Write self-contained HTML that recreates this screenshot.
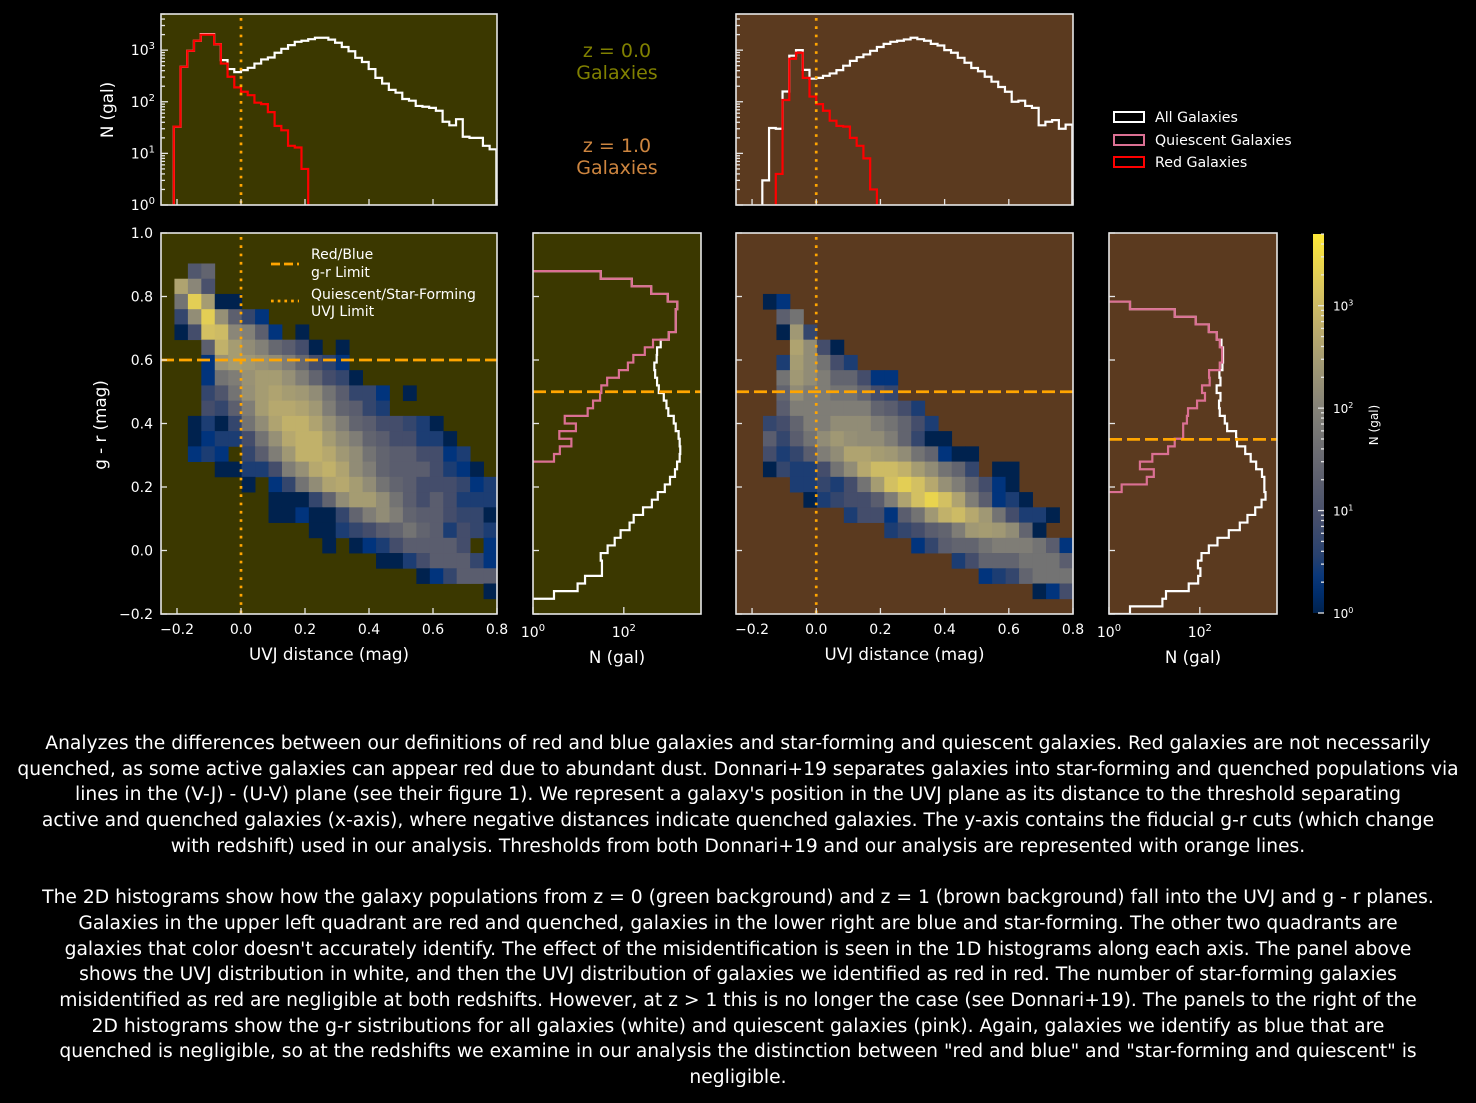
<!DOCTYPE html>
<html><head><meta charset="utf-8"><style>
html,body{margin:0;padding:0;background:#000;width:1476px;height:1103px;overflow:hidden}
svg{position:absolute;left:0;top:0}
#caption{position:absolute;left:0;top:731px;width:1476px;text-align:center;color:#fff;font-family:"DejaVu Sans","Liberation Sans",sans-serif;font-size:18.7px;line-height:25.7px;white-space:nowrap}
</style></head><body>
<svg id="fig" width="1476" height="1103" xmlns="http://www.w3.org/2000/svg" font-family="DejaVu Sans, Liberation Sans, sans-serif"></svg>
<div id="caption">Analyzes the differences between our definitions of red and blue galaxies and star-forming and quiescent galaxies. Red galaxies are not necessarily<br>quenched, as some active galaxies can appear red due to abundant dust. Donnari+19 separates galaxies into star-forming and quenched populations via<br>lines in the (V-J) - (U-V) plane (see their figure 1). We represent a galaxy's position in the UVJ plane as its distance to the threshold separating<br>active and quenched galaxies (x-axis), where negative distances indicate quenched galaxies. The y-axis contains the fiducial g-r cuts (which change<br>with redshift) used in our analysis. Thresholds from both Donnari+19 and our analysis are represented with orange lines.<br><br>The 2D histograms show how the galaxy populations from z = 0 (green background) and z = 1 (brown background) fall into the UVJ and g - r planes.<br>Galaxies in the upper left quadrant are red and quenched, galaxies in the lower right are blue and star-forming. The other two quadrants are<br>galaxies that color doesn't accurately identify. The effect of the misidentification is seen in the 1D histograms along each axis. The panel above<br>shows the UVJ distribution in white, and then the UVJ distribution of galaxies we identified as red in red. The number of star-forming galaxies<br>misidentified as red are negligible at both redshifts. However, at z &gt; 1 this is no longer the case (see Donnari+19). The panels to the right of the<br>2D histograms show the g-r sistributions for all galaxies (white) and quiescent galaxies (pink). Again, galaxies we identify as blue that are<br>quenched is negligible, so at the redshifts we examine in our analysis the distinction between "red and blue" and "star-forming and quiescent" is<br>negligible.</div>
<script>
// ---- data ----
const uvjBinStart = -0.252, uvjBinWidth = 0.021;
const grBinStart = -0.2, grBinWidth = 0.024;
const uvjAllZ0 = [0,0,33,475,970,1520,2050,2050,1300,640,430,375,410,455,550,660,720,890,1060,1250,1450,1520,1630,1740,1740,1600,1390,1150,950,710,590,430,290,225,170,150,113,105,83,80,76,67,41,35,46,21,20,20,14,12];
const uvjRedZ0 = [0,0,33,475,970,1520,2000,2000,1300,550,305,190,156,134,96,90,63,34,28,14,13,5,0,0,0,0,0,0,0,0,0,0,0,0,0,0,0,0,0,0,0,0,0,0,0,0,0,0,0,0];
const uvjAllZ1 = [0,0,0,0,3,31,30,158,780,1000,415,280,290,318,354,410,500,620,730,825,970,1150,1320,1450,1520,1610,1740,1630,1520,1320,1230,1000,890,710,570,450,390,305,245,193,156,100,105,83,76,35,41,44,30,36];
const uvjRedZ1 = [0,0,0,0,0,0,4,108,680,890,290,126,90,67,43,34,33,20,14,8,2,0,0,0,0,0,0,0,0,0,0,0,0,0,0,0,0,0,0,0,0,0,0,0,0,0,0,0,0,0];
const grAllZ0 = [0,0,2.9,9.6,14,33,33,31,44,63,85,134,165,265,415,560,800,1040,1340,1490,1700,1750,1700,1610,1390,1260,955,870,760,590,540,490,470,530,540,650,980,1390,1390,1390,1510,930,400,150,31,0,0,0,0,0];
const grQuiZ0 = [0,0,0,0,0,0,0,0,0,0,0,0,0,0,0,0,0,0,0,0,2.9,3.9,7,3.8,8.8,5,16,21,30,32,43,78,123,162,290,440,980,1390,1390,1390,1510,930,400,150,31,0,0,0,0,0];
const grAllZ1 = [2.9,15,18,57,92,103,91,109,158,245,435,760,1120,1660,2290,2800,2640,2640,2340,1740,1320,1000,660,630,400,355,275,265,285,235,285,270,315,325,325,300,235,158,81,28,2.9,0,0,0,0,0,0,0,0,0];
const grQuiZ1 = [0,0,0,0,0,0,0,0,0,0,0,0,0,0,0,0,1.9,6.8,9.7,4.8,9,20,28,43,43,52,55,87,130,112,165,160,275,310,310,275,235,158,81,28,2.9,0,0,0,0,0,0,0,0,0];
const hist2dZ0 = [
[0,0,0,0,0,0,0,0,0,0,0,0,0,0,0,0,0,0,0,0,0,0,0,0,0],
[0,0,0,0,0,0,0,0,0,0,0,0,0,0,0,0,0,0,0,0,0,0,0,0,0],
[0,0,13,25,0,0,0,0,0,0,0,0,0,0,0,0,0,0,0,0,0,0,0,0,0],
[0,400,120,10,0,0,0,0,0,0,0,0,0,0,0,0,0,0,0,0,0,0,0,0,0],
[0,50,2000,300,1,1,0,0,0,0,0,0,0,0,0,0,0,0,0,0,0,0,0,0,0],
[0,5,160,2000,180,20,5,2,0,0,0,0,0,0,0,0,0,0,0,0,0,0,0,0,0],
[0,1,8,1200,1000,120,90,20,2,0,1,0,0,0,0,0,0,0,0,0,0,0,0,0,0],
[0,0,0,20,700,300,150,90,30,18,8,1,0,1,0,0,0,0,0,0,0,0,0,0,0],
[0,0,0,2,200,300,250,200,150,80,30,8,4,2,0,0,0,0,0,0,0,0,0,0,0],
[0,0,0,2,50,80,200,300,300,180,80,25,8,5,1,0,0,0,0,0,0,0,0,0,0],
[0,0,0,5,12,50,180,300,400,300,250,150,50,18,5,5,2,0,1,0,0,0,0,0,0],
[0,0,0,8,5,20,80,300,500,500,400,250,80,25,18,5,3,0,0,0,0,0,0,0,0],
[0,0,1,3,1,5,50,150,400,700,700,400,180,80,25,18,8,8,5,3,1,0,0,0,0],
[0,0,1,2,3,3,8,50,180,500,700,700,300,150,80,25,18,8,8,3,3,1,0,0,0],
[0,0,2,3,2,0,5,18,80,250,700,700,500,250,150,50,25,18,18,8,8,2,3,0,0],
[0,0,0,0,1,1,3,3,8,80,180,500,700,400,150,80,25,18,18,18,8,3,2,1,0],
[0,0,0,0,0,0,1,0,2,5,50,150,400,500,300,150,50,25,18,8,8,8,5,2,3],
[0,0,0,0,0,0,0,0,1,1,1,5,25,150,300,300,150,50,18,8,18,8,3,3,3],
[0,0,0,0,0,0,0,0,1,1,2,1,1,5,25,80,150,80,25,18,18,8,5,5,1],
[0,0,0,0,0,0,0,0,0,0,0,1,1,3,5,8,18,25,50,25,18,3,8,5,3],
[0,0,0,0,0,0,0,0,0,0,0,0,1,0,1,2,3,8,18,18,18,18,8,0,2],
[0,0,0,0,0,0,0,0,0,0,0,0,0,0,0,0,1,1,3,8,18,18,18,5,2],
[0,0,0,0,0,0,0,0,0,0,0,0,0,0,0,0,0,0,0,1,2,5,18,18,18],
[0,0,0,0,0,0,0,0,0,0,0,0,0,0,0,0,0,0,0,0,0,0,0,0,1],
[0,0,0,0,0,0,0,0,0,0,0,0,0,0,0,0,0,0,0,0,0,0,0,0,0]];
const hist2dZ1 = [
[0,0,0,0,0,0,0,0,0,0,0,0,0,0,0,0,0,0,0,0,0,0,0,0,0],
[0,0,0,0,0,0,0,0,0,0,0,0,0,0,0,0,0,0,0,0,0,0,0,0,0],
[0,0,0,0,0,0,0,0,0,0,0,0,0,0,0,0,0,0,0,0,0,0,0,0,0],
[0,0,0,0,0,0,0,0,0,0,0,0,0,0,0,0,0,0,0,0,0,0,0,0,0],
[0,0,1,2,0,0,0,0,0,0,0,0,0,0,0,0,0,0,0,0,0,0,0,0,0],
[0,0,0,20,50,0,0,0,0,0,0,0,0,0,0,0,0,0,0,0,0,0,0,0,0],
[0,0,0,1,250,5,0,0,0,0,0,0,0,0,0,0,0,0,0,0,0,0,0,0,0],
[0,0,0,0,400,150,8,1,0,0,0,0,0,0,0,0,0,0,0,0,0,0,0,0,0],
[0,0,0,3,300,150,50,8,3,0,0,0,0,0,0,0,0,0,0,0,0,0,0,0,0],
[0,0,0,50,250,150,80,25,25,8,2,2,0,0,0,0,0,0,0,0,0,0,0,0,0],
[0,0,0,25,150,80,80,50,50,25,8,5,0,0,0,0,0,0,0,0,0,0,0,0,0],
[0,0,0,18,80,80,80,80,80,80,25,18,8,3,0,0,0,0,0,0,0,0,0,0,0],
[0,0,5,8,25,80,80,150,150,150,80,50,25,8,3,0,0,0,0,0,0,0,0,0,0],
[0,0,18,5,18,50,150,250,180,150,150,80,25,5,1,1,0,0,0,0,0,0,0,0,0],
[0,0,8,3,5,18,80,150,400,400,300,250,150,50,25,2,1,1,0,0,0,0,0,0,0],
[0,0,1,5,3,3,8,50,150,500,1000,1000,700,300,150,50,25,5,0,1,1,0,0,0,0],
[0,0,0,0,3,3,5,3,8,50,300,1200,2000,1200,500,180,80,25,8,2,1,0,0,0,0],
[0,0,0,0,0,1,3,5,8,8,18,80,400,1200,2500,1200,400,80,18,2,3,1,0,0,0],
[0,0,0,0,0,0,0,0,3,8,8,2,18,50,250,700,1000,500,250,50,8,3,3,1,0],
[0,0,0,0,0,0,0,0,0,0,0,3,5,8,18,25,80,250,300,250,150,25,1,0,0],
[0,0,0,0,0,0,0,0,0,0,0,0,0,2,5,18,25,25,50,80,80,80,50,18,2],
[0,0,0,0,0,0,0,0,0,0,0,0,0,0,0,0,3,8,25,25,25,50,50,50,18],
[0,0,0,0,0,0,0,0,0,0,0,0,0,0,0,0,0,0,2,3,5,25,50,50,50],
[0,0,0,0,0,0,0,0,0,0,0,0,0,0,0,0,0,0,0,0,0,0,1,2,8],
[0,0,0,0,0,0,0,0,0,0,0,0,0,0,0,0,0,0,0,0,0,0,0,0,0]];
const uvjTicks = [-0.2, 0.0, 0.2, 0.4, 0.6, 0.8];
const uvjTickLabels = ["\u22120.2","0.0","0.2","0.4","0.6","0.8"];
const grTicks = [-0.2, 0.0, 0.2, 0.4, 0.6, 0.8, 1.0];
const grTickLabels = ["\u22120.2","0.0","0.2","0.4","0.6","0.8","1.0"];
const logTicks = [0,1,2,3];
const sideLogTicks = [0,2];
const grLimitMainZ0 = 0.6, grLimitSideZ0 = 0.5, grLimitMainZ1 = 0.5, grLimitSideZ1 = 0.35;
const uvjLimit = 0.0;

// ---- scales ----
const XMIN=-0.25, XMAX=0.8, YMIN=-0.2, YMAX=1.0, LOGMAX=3.7;
const NS="http://www.w3.org/2000/svg";
const fig=document.getElementById('fig');
function mk(tag, attrs, parent){const e=document.createElementNS(NS,tag);for(const k in attrs)e.setAttribute(k,attrs[k]);(parent||fig).appendChild(e);return e;}
function xLin(p,v){return p.x0+(v-XMIN)/(XMAX-XMIN)*(p.x1-p.x0);}
function yLin(p,v){return p.y1-(v-YMIN)/(YMAX-YMIN)*(p.y1-p.y0);}
function yLog(p,c){return p.y1-Math.log10(c)/LOGMAX*(p.y1-p.y0);}
function xLog(p,c){return p.x0+Math.log10(c)/LOGMAX*(p.x1-p.x0);}
const cmapStops=[[0,[0,34,78]],[0.08,[0,52,125]],[0.15,[40,65,110]],[0.25,[70,78,107]],[0.35,[92,95,110]],[0.45,[113,113,115]],[0.55,[135,132,120]],[0.65,[160,152,116]],[0.75,[188,172,108]],[0.85,[216,196,96]],[1,[254,232,56]]];
function cividis(t){t=Math.max(0,Math.min(1,t));for(let i=1;i<cmapStops.length;i++){if(t<=cmapStops[i][0]){const a=cmapStops[i-1],b=cmapStops[i];const f=(t-a[0])/(b[0]-a[0]);const c=a[1].map((v,j)=>Math.round(v+(b[1][j]-v)*f));return 'rgb('+c.join(',')+')';}}return 'rgb(254,232,56)';}

const GREEN='#3b3800', BROWN='#5b3a1f', ORANGE='#ffa500', SPINE='#e6e6e6';
const panels={
 topL:{x0:161,x1:497,y0:14,y1:205,bg:GREEN},
 topR:{x0:736,x1:1073,y0:14,y1:205,bg:BROWN},
 mainL:{x0:161,x1:497,y0:233,y1:614,bg:GREEN},
 sideL:{x0:533,x1:701,y0:233,y1:614,bg:GREEN},
 mainR:{x0:736,x1:1073,y0:233,y1:614,bg:BROWN},
 sideR:{x0:1109,x1:1277,y0:233,y1:614,bg:BROWN}
};
const defs=mk('defs',{});
for(const k in panels){const p=panels[k];const cp=mk('clipPath',{id:'clip-'+k},defs);mk('rect',{x:p.x0,y:p.y0,width:p.x1-p.x0,height:p.y1-p.y0},cp);}

function background(p,name){const r=mk('rect',{x:p.x0,y:p.y0,width:p.x1-p.x0,height:p.y1-p.y0,fill:p.bg});

}
function spine(p,name){const r=mk('rect',{x:p.x0,y:p.y0,width:p.x1-p.x0,height:p.y1-p.y0,fill:'none',stroke:SPINE,'stroke-width':1.6});

}
function label(x,y,txt,size,anchor,name,color,rot){const t=mk('text',{x:x,y:y,'font-size':size,fill:color||'#fff','text-anchor':anchor||'middle'});if(rot)t.setAttribute('transform','rotate(-90 '+x+' '+y+')');t.textContent=txt;

return t;}
function powLabel(x,y,exp,size,anchor,name){const t=mk('text',{x:x,y:y,'font-size':size,fill:'#fff','text-anchor':anchor});t.appendChild(document.createTextNode('10'));const s=mk('tspan',{dy:-Math.round(size*0.45),'font-size':Math.round(size*0.7)},t);s.textContent=String(exp);

}
function tickLine(x1,y1,x2,y2,name){const l=mk('line',{x1:x1,y1:y1,x2:x2,y2:y2,stroke:SPINE,'stroke-width':1.3});

}

function topHist(p,counts,color,name,clipId){let d='';
 counts.forEach((c,i)=>{const xa=Math.max(p.x0-2,xLin(p,uvjBinStart+i*uvjBinWidth));const xb=xLin(p,uvjBinStart+(i+1)*uvjBinWidth);const y=c>0?yLog(p,c):p.y1+5;
  if(d==='')d='M'+xa+','+(p.y1+5);d+=' L'+xa+','+y+' L'+xb+','+y;});
 d+=' L'+xLin(p,uvjBinStart+counts.length*uvjBinWidth)+','+(p.y1+5);
 const path=mk('path',{d:d,fill:'none',stroke:color,'stroke-width':2.2,'clip-path':'url(#'+clipId+')'});
 
 }
function sideHist(p,counts,color,name,clipId){let d='M'+(p.x0-5)+','+yLin(p,grBinStart);
 counts.forEach((c,j)=>{const ya=yLin(p,grBinStart+j*grBinWidth);const yb=yLin(p,grBinStart+(j+1)*grBinWidth);const x=c>0?xLog(p,c):p.x0-5;
  d+=' L'+x+','+ya+' L'+x+','+yb;});
 d+=' L'+(p.x0-5)+','+yLin(p,grBinStart+counts.length*grBinWidth);
 const path=mk('path',{d:d,fill:'none',stroke:color,'stroke-width':2.2,'clip-path':'url(#'+clipId+')'});
 
 }
function heatmap(p,grid,name){const g=mk('g',{});
 
 
 const n=grid.length,cw=(XMAX-XMIN)/grid[0].length,ch=(YMAX-YMIN)/n;
 grid.forEach((row,r)=>row.forEach((c,ci)=>{if(c<=0)return;const xa=xLin(p,XMIN+ci*cw),xb=xLin(p,XMIN+(ci+1)*cw);const ya=yLin(p,YMAX-r*ch),yb=yLin(p,YMAX-(r+1)*ch);
  const rc=mk('rect',{x:xa,y:ya,width:xb-xa+0.4,height:yb-ya+0.4,fill:cividis(Math.log10(c)/LOGMAX)},g);
  
  }));}
function hLine(p,v,dash,name){const l=mk('line',{x1:p.x0,x2:p.x1,y1:yLin(p,v),y2:yLin(p,v),stroke:ORANGE,'stroke-width':2.7,'stroke-dasharray':dash});

}
function vLine(p,v,name){const l=mk('line',{x1:xLin(p,v),x2:xLin(p,v),y1:p.y0+4,y2:p.y1,stroke:ORANGE,'stroke-width':2.7,'stroke-dasharray':'2.7,5.6'});

}
function xTicksLin(p,labels){uvjTicks.forEach((v,i)=>{const x=xLin(p,v);tickLine(x,p.y1,x,p.y1-6,'x-tick');if(labels)label(x,p.y1+20,uvjTickLabels[i],14,'middle','x-tick-label');});}
function yTicksLin(p,labels){grTicks.forEach((v,i)=>{const y=yLin(p,v);tickLine(p.x0,y,p.x0+6,y,'y-tick');if(labels)label(p.x0-8,y+5,grTickLabels[i],14,'end','y-tick-label');});}
function yTicksLog(p,labels){for(let d=0;d<4;d++){for(let m=1;m<10;m++){const lv=d+Math.log10(m);if(lv>LOGMAX)break;const y=p.y1-lv/LOGMAX*(p.y1-p.y0);tickLine(p.x0,y,p.x0+(m===1?7:4),y,m===1?'y-major-tick':'y-minor-tick');}}
 if(labels)logTicks.forEach(e=>powLabel(p.x0-6,yLog(p,Math.pow(10,e))+5,e,14,'end','y-tick-label'));}
function xTicksLog(p){sideLogTicks.forEach(e=>{const x=xLog(p,Math.pow(10,e));tickLine(x,p.y1,x,p.y1-7,'x-tick');powLabel(x,p.y1+23,e,14,'middle','x-tick-label');});}

[['topL',uvjAllZ0,uvjRedZ0,'z0'],['topR',uvjAllZ1,uvjRedZ1,'z1']].forEach(([k,all,red,z])=>{const p=panels[k];
 background(p,'uvj-hist-background-'+z);
 topHist(p,all,'#ffffff','uvj-hist-all-'+z,'clip-'+k);
 topHist(p,red,'#ff0000','uvj-hist-red-'+z,'clip-'+k);
 vLine(p,uvjLimit,'uvj-limit-line-'+z);
 xTicksLin(p,false);yTicksLog(p,k==='topL');
 spine(p,'uvj-hist-frame-'+z);});
label(113,110,'N (gal)',16.7,'middle','uvj-hist-y-title','#fff',true);

[['mainL',hist2dZ0,grLimitMainZ0,'z0'],['mainR',hist2dZ1,grLimitMainZ1,'z1']].forEach(([k,grid,gl,z])=>{const p=panels[k];
 background(p,'hist2d-background-'+z);
 heatmap(p,grid,'hist2d-'+z);
 hLine(p,gl,'13,5','gr-limit-line-'+z);
 vLine(p,uvjLimit,'uvj-limit-line-main-'+z);
 xTicksLin(p,true);yTicksLin(p,k==='mainL');
 spine(p,'hist2d-frame-'+z);
 label((p.x0+p.x1)/2,660,'UVJ distance (mag)',16.7,'middle','x-axis-title-'+z);});
label(106,425,'g - r (mag)',16.7,'middle','y-axis-title','#fff',true);

[['sideL',grAllZ0,grQuiZ0,grLimitSideZ0,'z0'],['sideR',grAllZ1,grQuiZ1,grLimitSideZ1,'z1']].forEach(([k,all,q,gl,z])=>{const p=panels[k];
 background(p,'gr-hist-background-'+z);
 sideHist(p,all,'#ffffff','gr-hist-all-'+z,'clip-'+k);
 sideHist(p,q,'#db7093','gr-hist-quiescent-'+z,'clip-'+k);
 hLine(p,gl,'13,5','gr-limit-line-side-'+z);
 yTicksLin(p,false);xTicksLog(p);
 spine(p,'gr-hist-frame-'+z);
 label((p.x0+p.x1)/2,663,'N (gal)',16.7,'middle','side-x-axis-title-'+z);});

(function(){const l1=mk('line',{x1:271,x2:299,y1:264,y2:264,stroke:ORANGE,'stroke-width':2.7,'stroke-dasharray':'9,4'});


label(311,259,'Red/Blue',14,'start','legend-gr-limit-label');
label(311,277,'g-r Limit',14,'start','legend-gr-limit-label-2');
const l2=mk('line',{x1:271,x2:299,y1:301,y2:301,stroke:ORANGE,'stroke-width':2.7,'stroke-dasharray':'2.7,4'});


label(311,299,'Quiescent/Star-Forming',14,'start','legend-uvj-limit-label');
label(311,316,'UVJ Limit',14,'start','legend-uvj-limit-label-2');})();

label(617,57,'z = 0.0',19,'middle','title-z0','#808000');
label(617,79,'Galaxies',19,'middle','title-z0-galaxies','#808000');
label(617,152,'z = 1.0',19,'middle','title-z1','#cd853f');
label(617,174,'Galaxies',19,'middle','title-z1-galaxies','#cd853f');

[['All Galaxies','#ffffff',117,'legend-all'],['Quiescent Galaxies','#db7093',140,'legend-quiescent'],['Red Galaxies','#ff0000',162,'legend-red']].forEach(([t,c,y,n])=>{
 const r=mk('rect',{x:1114,y:y-5,width:30,height:10,fill:'none',stroke:c,'stroke-width':2});
 
 
 label(1155,y+5,t,14.2,'start',n+'-label');});

(function(){const lg=mk('linearGradient',{id:'cbgrad',x1:0,y1:1,x2:0,y2:0},defs);
 for(let i=0;i<=20;i++){mk('stop',{offset:(i/20),'stop-color':cividis(i/20)},lg);}
 const cb={x0:1313,x1:1324,y0:234,y1:613};
 const r=mk('rect',{x:cb.x0,y:cb.y0,width:cb.x1-cb.x0,height:cb.y1-cb.y0,fill:'url(#cbgrad)'});
 
 
 for(let d=0;d<4;d++){for(let m=1;m<10;m++){const lv=d+Math.log10(m);if(lv>LOGMAX)break;const y=cb.y1-lv/LOGMAX*(cb.y1-cb.y0);tickLine(cb.x1,y,cb.x1-(m===1?6:3),y,'colorbar-tick');}}
 logTicks.forEach(e=>{const y=cb.y1-e/LOGMAX*(cb.y1-cb.y0);powLabel(1333,y+5,e,12,'start','colorbar-tick-label');});
 label(1378,425,'N (gal)',12,'middle','colorbar-title','#fff',true);})();
</script>
</body></html>
